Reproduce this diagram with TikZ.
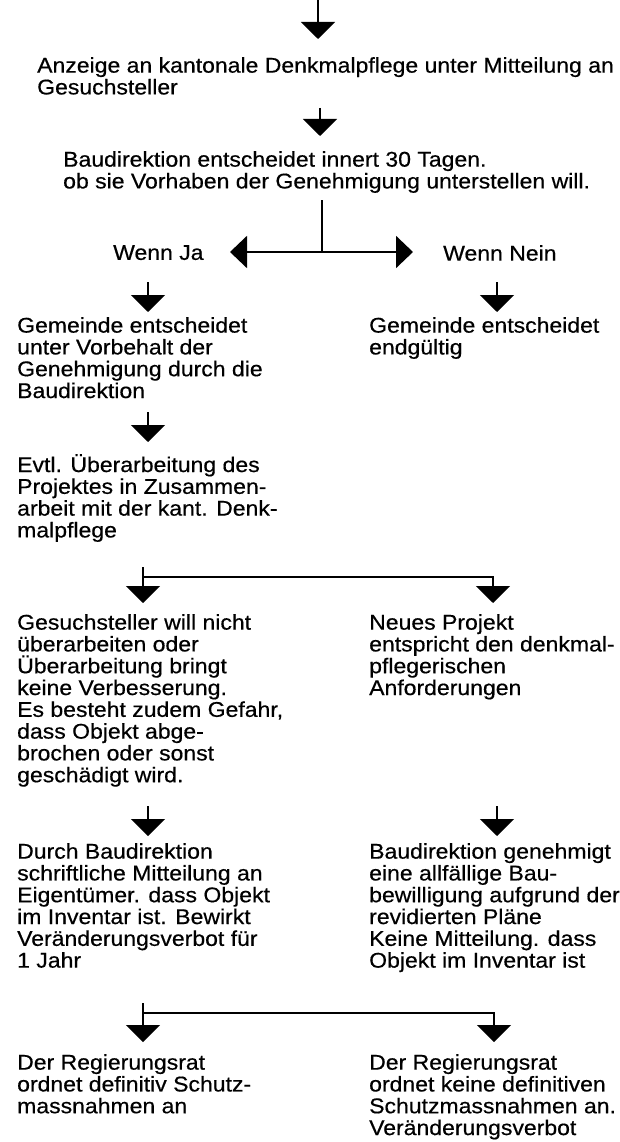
\documentclass[tikz,border=0pt]{standalone}
\usepackage{fontspec}
\setmainfont{Liberation Sans}[FakeStretch=1.08, FakeBold=0.5]
\usetikzlibrary{arrows.meta, positioning}

\begin{document}
\begin{tikzpicture}[
    x=1pt, y=-1pt,
    txt/.style={anchor=north west, inner sep=0pt, align=left,
        font=\fontsize{21.3}{21.8}\selectfont},
    downarrow/.style={line width=2pt, -{Triangle[width=34pt, length=17pt]}},
    bothways/.style={line width=2pt, {Triangle[width=32pt, length=17pt]}-{Triangle[width=32pt, length=17pt]}},
    junction/.style={line width=1.6pt},
    ]

    \useasboundingbox (0,0) rectangle (620,1142);

        % texts
    \node[txt] (anzeige) at (37,57) {Anzeige an kantonale Denkmalpflege unter Mitteilung an\\Gesuchsteller};
    \node[txt] (entscheid) at (63,151) {Baudirektion entscheidet innert 30 Tagen.\\ob sie Vorhaben der Genehmigung unterstellen will.};
    \node[txt] (ja) at (113,245) {Wenn Ja};
    \node[txt] (nein) at (443,245) {Wenn Nein};
    \node[txt] (gemvorb) at (17,317) {Gemeinde entscheidet\\unter Vorbehalt der\\Genehmigung durch die\\Baudirektion};
    \node[txt] (gemend) at (369,317) {Gemeinde entscheidet\\endgültig};
    \node[txt] (evtl) at (17,454) {Evtl. Überarbeitung des\\Projektes in Zusammen-\\arbeit mit der kant. Denk-\\malpflege};
    \node[txt] (nicht) at (17,614) {Gesuchsteller will nicht\\überarbeiten oder\\Überarbeitung bringt\\keine Verbesserung.\\Es besteht zudem Gefahr,\\dass Objekt abge-\\brochen oder sonst\\geschädigt wird.};
    \node[txt] (neu) at (369,614) {Neues Projekt\\entspricht den denkmal-\\pflegerischen\\Anforderungen};
    \node[txt] (mitteil) at (17,843) {Durch Baudirektion\\schriftliche Mitteilung an\\Eigentümer. dass Objekt\\im Inventar ist. Bewirkt\\Veränderungsverbot für\\1 Jahr};
    \node[txt] (genehm) at (369,843) {Baudirektion genehmigt\\eine allfällige Bau-\\bewilligung aufgrund der\\revidierten Pläne\\Keine Mitteilung. dass\\Objekt im Inventar ist};
    \node[txt] (schutz) at (17,1054) {Der Regierungsrat\\ordnet definitiv Schutz-\\massnahmen an};
    \node[txt] (keinschutz) at (369,1054) {Der Regierungsrat\\ordnet keine definitiven\\Schutzmassnahmen an.\\Veränderungsverbot};

        % arrow ends
    \coordinate (a0s) at (318,0);    \coordinate (a0e) at (318,39);
    \coordinate (a1s) at (320,108);  \coordinate (a1e) at (320,136);
    \coordinate (fork) at (322,200); \coordinate (forkm) at (322,252);
    \coordinate (forkl) at (230,252); \coordinate (forkr) at (413,252);
    \coordinate (a2s) at (148,282);  \coordinate (a2e) at (148,312);
    \coordinate (a3s) at (497,282);  \coordinate (a3e) at (497,312);
    \coordinate (a4s) at (148,412);  \coordinate (a4e) at (148,442);
    \coordinate (j1s) at (143,567);  \coordinate (j1m) at (143,577);
    \coordinate (j1r) at (493,577);
    \coordinate (a5e) at (143,603);  \coordinate (a6e) at (493,603);
    \coordinate (a7s) at (148,806);  \coordinate (a7e) at (148,836);
    \coordinate (a8s) at (497,806);  \coordinate (a8e) at (497,836);
    \coordinate (j2s) at (143,1003); \coordinate (j2m) at (143,1013);
    \coordinate (j2r) at (494,1013);
    \coordinate (a9e) at (143,1042); \coordinate (a10e) at (494,1042);

        % arrows
    \draw[downarrow] (a0s) -- (a0e);
    \draw[downarrow] (a1s) -- (a1e);
    \draw[line width=2pt] (fork) -- (forkm);
    \draw[bothways] (forkl) -- (forkr);
    \draw[downarrow] (a2s) -- (a2e);
    \draw[downarrow] (a3s) -- (a3e);
    \draw[downarrow] (a4s) -- (a4e);

    \draw[junction] (j1s) -- (j1m) -- (j1r) -- ++(0,6);
    \draw[downarrow] (j1m) -- (a5e);
    \draw[downarrow] (j1r) -- (a6e);

    \draw[downarrow] (a7s) -- (a7e);
    \draw[downarrow] (a8s) -- (a8e);

    \draw[junction] (j2s) -- (j2m) -- (j2r) -- ++(0,6);
    \draw[downarrow] (j2m) -- (a9e);
    \draw[downarrow] (j2r) -- (a10e);

\end{tikzpicture}
\end{document}
